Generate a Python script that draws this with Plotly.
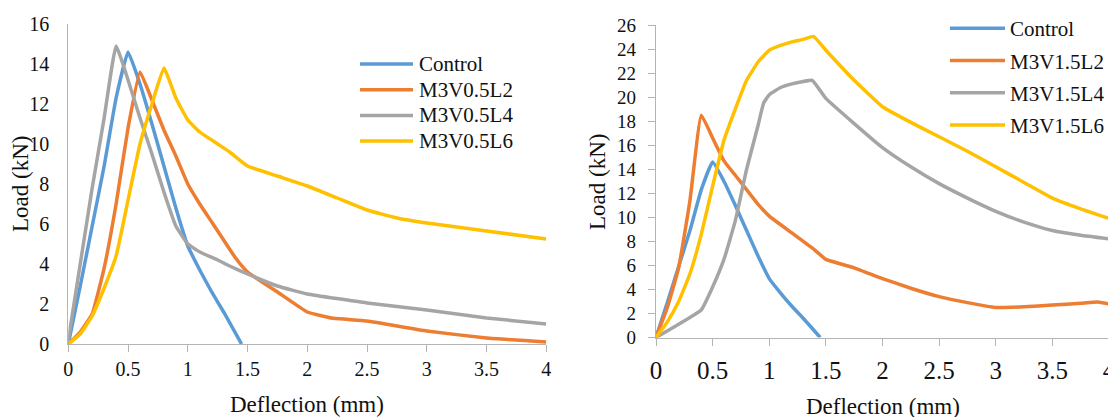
import plotly.graph_objects as go

# ---------------- data ----------------
# Control (same specimen on both panels)
ctrl_x = [0, 0.1, 0.2, 0.3, 0.4, 0.5, 0.6, 0.7, 0.8, 0.9, 1.0, 1.1, 1.2, 1.3, 1.45]
ctrl_y = [0, 2.9, 5.9, 8.9, 12.3, 14.6, 13.0, 11.0, 8.9, 6.8, 4.9, 3.7, 2.6, 1.6, 0]

# Left panel (V0.5)
l2_x = [0, 0.1, 0.2, 0.3, 0.4, 0.5, 0.6, 0.7, 0.8, 0.9, 1.0, 1.1, 1.2, 1.3, 1.4, 1.5,
        1.75, 2.0, 2.2, 2.5, 3.0, 3.5, 4.0]
l2_y = [0, 0.6, 1.5, 3.8, 7.0, 10.8, 13.6, 12.2, 10.7, 9.4, 8.0, 7.0, 6.1, 5.2, 4.3, 3.6,
        2.6, 1.6, 1.3, 1.15, 0.65, 0.3, 0.1]

l4_x = [0, 0.1, 0.2, 0.3, 0.4, 0.5, 0.6, 0.7, 0.8, 0.9, 1.0, 1.1, 1.25, 1.35, 1.5,
        1.75, 2.0, 2.5, 3.0, 3.5, 4.0]
l4_y = [0.2, 4.0, 7.8, 11.3, 14.9, 13.2, 11.3, 9.5, 7.6, 5.9, 5.0, 4.6, 4.2, 3.9, 3.5,
        2.9, 2.5, 2.05, 1.7, 1.3, 1.0]

l6_x = [0, 0.1, 0.2, 0.3, 0.4, 0.5, 0.6, 0.7, 0.8, 0.9, 1.0, 1.1, 1.25, 1.35, 1.5,
        1.75, 2.0, 2.25, 2.5, 2.75, 3.0, 3.5, 4.0]
l6_y = [0, 0.5, 1.4, 2.8, 4.4, 7.2, 10.0, 12.0, 13.8, 12.3, 11.2, 10.6, 10.0, 9.6, 8.9,
        8.4, 7.9, 7.3, 6.7, 6.3, 6.05, 5.65, 5.25]

# Right panel (V1.5)
r2_x = [0, 0.1, 0.2, 0.3, 0.4, 0.5, 0.6, 0.7, 0.8, 0.9, 1.0, 1.2, 1.4, 1.5, 1.75, 2.0,
        2.25, 2.5, 2.75, 3.0, 3.25, 3.5, 3.75, 3.9, 4.0]
r2_y = [0, 2.5, 5.8, 11.4, 18.5, 16.6, 14.7, 13.5, 12.3, 11.1, 10.1, 8.7, 7.3, 6.5, 5.8,
        4.9, 4.1, 3.4, 2.9, 2.5, 2.55, 2.7, 2.85, 2.95, 2.8]

r4_x = [0, 0.2, 0.4, 0.5, 0.6, 0.7, 0.8, 0.9, 0.95, 1.0, 1.1, 1.2, 1.3, 1.38, 1.5, 1.75,
        2.0, 2.25, 2.5, 2.75, 3.0, 3.25, 3.5, 3.75, 4.0]
r4_y = [0, 1.1, 2.3, 4.2, 6.5, 9.7, 14.0, 17.6, 19.5, 20.2, 20.8, 21.1, 21.3, 21.4, 19.9,
        17.8, 15.8, 14.2, 12.8, 11.6, 10.5, 9.6, 8.9, 8.5, 8.2]

r6_x = [0, 0.1, 0.2, 0.3, 0.4, 0.5, 0.6, 0.7, 0.8, 0.9, 1.0, 1.1, 1.2, 1.3, 1.39, 1.5,
        1.75, 2.0, 2.25, 2.5, 2.75, 3.0, 3.25, 3.5, 3.75, 4.0]
r6_y = [0, 1.3, 3.0, 5.3, 8.6, 12.6, 16.4, 19.0, 21.4, 22.9, 23.9, 24.3, 24.6, 24.8, 25.05,
        23.9, 21.4, 19.2, 17.9, 16.7, 15.5, 14.2, 12.9, 11.6, 10.7, 9.9]

left_names = ["Control", "M3V0.5L2", "M3V0.5L4", "M3V0.5L6"]
right_names = ["Control", "M3V1.5L2", "M3V1.5L4", "M3V1.5L6"]
x_tickvals = [0, 0.5, 1, 1.5, 2, 2.5, 3, 3.5, 4]
x_ticktext = ["0", "0.5", "1", "1.5", "2", "2.5", "3", "3.5", "4"]
left_yticks = [0, 2, 4, 6, 8, 10, 12, 14, 16]
right_yticks = list(range(0, 27, 2))
x_title = "Deflection (mm)"
y_title = "Load (kN)"

# ---------------- style ----------------
FONT = "Liberation Serif"
TXT = "#111111"
AX = "#b4b4b4"
COLORS = ["#5B9BD5", "#ED7D31", "#A5A5A5", "#FFC000"]
LW = 3.5
SMOOTH = 0.35

W, H = 1116, 417
OFF = 8  # page body margin


def px_x(p):
    return (p - OFF) / W


def px_y(p):
    return 1 - (p - OFF) / H


fig = go.Figure()

left_series = [(ctrl_x, ctrl_y), (l2_x, l2_y), (l4_x, l4_y), (l6_x, l6_y)]
right_series = [(ctrl_x, ctrl_y), (r2_x, r2_y), (r4_x, r4_y), (r6_x, r6_y)]

for i, ((xs, ys), nm) in enumerate(zip(left_series, left_names)):
    fig.add_trace(go.Scatter(x=xs, y=ys, name=nm, mode="lines",
                             line=dict(color=COLORS[i], width=LW, shape="spline",
                                       smoothing=SMOOTH),
                             xaxis="x", yaxis="y", showlegend=False,
                             cliponaxis=False))
for i, ((xs, ys), nm) in enumerate(zip(right_series, right_names)):
    fig.add_trace(go.Scatter(x=xs, y=ys, name=nm, mode="lines",
                             line=dict(color=COLORS[i], width=LW, shape="spline",
                                       smoothing=SMOOTH),
                             xaxis="x2", yaxis="y2", legend="legend2",
                             legendgroup="g%d" % i, cliponaxis=False))

common_axis = dict(showgrid=False, zeroline=False, showline=True, linecolor=AX,
                   linewidth=1.3, tickcolor=AX, tickwidth=1.3, automargin=False)

fig.update_layout(
    width=W, height=H,
    margin=dict(l=0, r=0, t=0, b=0, autoexpand=False),
    paper_bgcolor="white", plot_bgcolor="white",
    font=dict(family=FONT, color=TXT),
    xaxis=dict(domain=[px_x(68.3), px_x(546.3)], range=[0, 4], anchor="y",
               tickvals=x_tickvals, ticktext=x_ticktext, ticks="outside", ticklen=7,
               tickfont=dict(size=20, family=FONT, color=TXT), ticklabelstandoff=0,
               **common_axis),
    yaxis=dict(domain=[px_y(344), px_y(24)], range=[0, 16], anchor="x",
               tickvals=left_yticks, ticks="", tickfont=dict(size=20, family=FONT, color=TXT),
               ticklabelstandoff=14, **common_axis),
    xaxis2=dict(domain=[px_x(656), px_x(1109)], range=[0, 4], anchor="y2",
                tickvals=x_tickvals, ticktext=x_ticktext, ticks="outside", ticklen=7,
                tickfont=dict(size=25, family=FONT, color=TXT), ticklabelstandoff=3,
                **common_axis),
    yaxis2=dict(domain=[px_y(337.5), px_y(25)], range=[0, 26], anchor="x2",
                tickvals=right_yticks, ticks="outside", ticklen=7,
                tickfont=dict(size=19, family=FONT, color=TXT), ticklabelstandoff=8,
                **common_axis),
    legend2=dict(x=px_x(945), y=px_y(8), xanchor="left", yanchor="top",
                 font=dict(size=21, family=FONT, color=TXT), itemwidth=55,
                 bgcolor="rgba(0,0,0,0)", tracegroupgap=2),
    showlegend=True,
)

# Left-panel legend (tighter row spacing than plotly's legend allows)
LEG_TOP, LEG_STEP = 64, 25.7
for i, nm in enumerate(left_names):
    yy = px_y(LEG_TOP + LEG_STEP * i)
    fig.add_shape(type="line", xref="paper", yref="paper",
                  x0=px_x(360), x1=px_x(413), y0=yy, y1=yy,
                  line=dict(color=COLORS[i], width=LW))
    fig.add_annotation(text=nm, x=px_x(417), y=yy, xref="paper", yref="paper",
                       xanchor="left", yanchor="middle", showarrow=False,
                       font=dict(size=21, family=FONT, color=TXT))

annots = [
    dict(text=x_title, x=px_x(307), y=px_y(404), size=23, angle=0),
    dict(text=x_title, x=px_x(883), y=px_y(406), size=23, angle=0),
    dict(text=y_title, x=px_x(20), y=px_y(184), size=23, angle=-90),
    dict(text=y_title, x=px_x(597), y=px_y(182), size=23, angle=-90),
]
for a in annots:
    fig.add_annotation(text=a["text"], x=a["x"], y=a["y"], xref="paper", yref="paper",
                       xanchor="center", yanchor="middle", showarrow=False,
                       textangle=a["angle"], font=dict(size=a["size"], family=FONT, color=TXT))

fig.write_html("out.html")
